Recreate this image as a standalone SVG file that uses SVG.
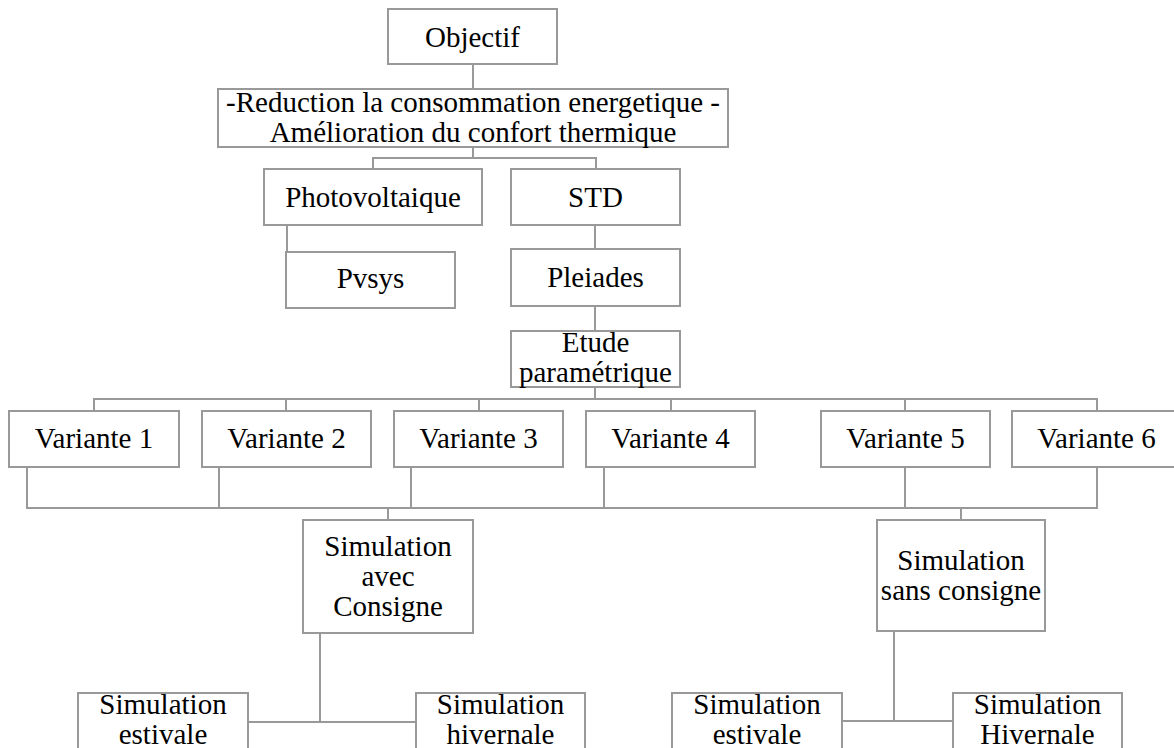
<svg xmlns="http://www.w3.org/2000/svg" width="1174" height="748" viewBox="0 0 1174 748">
<style>
.box{fill:#fff;stroke:#999;stroke-width:2}
.t{font-family:"Liberation Serif","Times New Roman",serif;font-size:29px;fill:#000;text-anchor:middle}
.c{fill:none;stroke:#999;stroke-width:2}
</style>
<rect width="1174" height="748" fill="#fff"/>
<g id="connectors">
<path class="c" d="M473 64V89"/>
<path class="c" d="M473 147V158M373 169V158H596V169"/>
<path class="c" d="M287 225V252"/>
<path class="c" d="M595 225V249"/>
<path class="c" d="M595 306V331"/>
<path class="c" d="M595 387V399"/>
<path class="c" d="M94 411V399H1097V411M286 399V411M479 399V411M671 399V411M905 399V411"/>
<path class="c" d="M27 467V508H1097V467M219 467V508M411 467V508M604 467V508M905 467V508"/>
<path class="c" d="M388 508V520"/>
<path class="c" d="M961 508V520"/>
<path class="c" d="M320 633V722M248 722H416"/>
<path class="c" d="M894 631V721M842 721H953"/>
</g>
<g id="objectif"><rect class="box" x="388" y="9" width="169" height="55"/><text class="t" x="472.5" y="47">Objectif</text></g>
<g id="reduction"><rect class="box" x="218" y="89" width="510" height="58"/><text class="t" x="473" y="112">-Reduction la consommation energetique -<tspan x="473" dy="30">Amélioration du confort thermique</tspan></text></g>
<g id="photovoltaique"><rect class="box" x="264" y="169" width="218" height="56"/><text class="t" x="373" y="207">Photovoltaique</text></g>
<g id="std"><rect class="box" x="511" y="169" width="169" height="56"/><text class="t" x="595.5" y="207">STD</text></g>
<g id="pvsys"><rect class="box" x="286" y="252" width="169" height="56"/><text class="t" x="370.5" y="288">Pvsys</text></g>
<g id="pleiades"><rect class="box" x="511" y="249" width="169" height="57"/><text class="t" x="595.5" y="287">Pleiades</text></g>
<g id="etude"><rect class="box" x="511" y="331" width="169" height="56"/><text class="t" x="595.5" y="352">Etude<tspan x="595.5" dy="30">paramétrique</tspan></text></g>
<g id="variante1"><rect class="box" x="9" y="411" width="170" height="56"/><text class="t" x="94" y="448">Variante 1</text></g>
<g id="variante2"><rect class="box" x="202" y="411" width="169" height="56"/><text class="t" x="286.5" y="448">Variante 2</text></g>
<g id="variante3"><rect class="box" x="394" y="411" width="169" height="56"/><text class="t" x="478.5" y="448">Variante 3</text></g>
<g id="variante4"><rect class="box" x="586" y="411" width="169" height="56"/><text class="t" x="670.5" y="448">Variante 4</text></g>
<g id="variante5"><rect class="box" x="821" y="411" width="169" height="56"/><text class="t" x="905.5" y="448">Variante 5</text></g>
<g id="variante6"><rect class="box" x="1012" y="411" width="169" height="56"/><text class="t" x="1096.5" y="448">Variante 6</text></g>
<g id="sim-avec"><rect class="box" x="303" y="520" width="170" height="113"/><text class="t" x="388" y="556">Simulation<tspan x="388" dy="30">avec</tspan><tspan x="388" dy="30">Consigne</tspan></text></g>
<g id="sim-sans"><rect class="box" x="877" y="520" width="168" height="111"/><text class="t" x="961" y="570">Simulation<tspan x="961" dy="30">sans consigne</tspan></text></g>
<g id="sim-estivale-1"><rect class="box" x="78" y="693" width="170" height="70"/><text class="t" x="163" y="714">Simulation<tspan x="163" dy="30">estivale</tspan></text></g>
<g id="sim-hivernale-1"><rect class="box" x="416" y="693" width="169" height="70"/><text class="t" x="500.5" y="714">Simulation<tspan x="500.5" dy="30">hivernale</tspan></text></g>
<g id="sim-estivale-2"><rect class="box" x="672" y="693" width="170" height="70"/><text class="t" x="757" y="714">Simulation<tspan x="757" dy="30">estivale</tspan></text></g>
<g id="sim-hivernale-2"><rect class="box" x="953" y="693" width="169" height="70"/><text class="t" x="1037.5" y="714">Simulation<tspan x="1037.5" dy="30">Hivernale</tspan></text></g>
</svg>
